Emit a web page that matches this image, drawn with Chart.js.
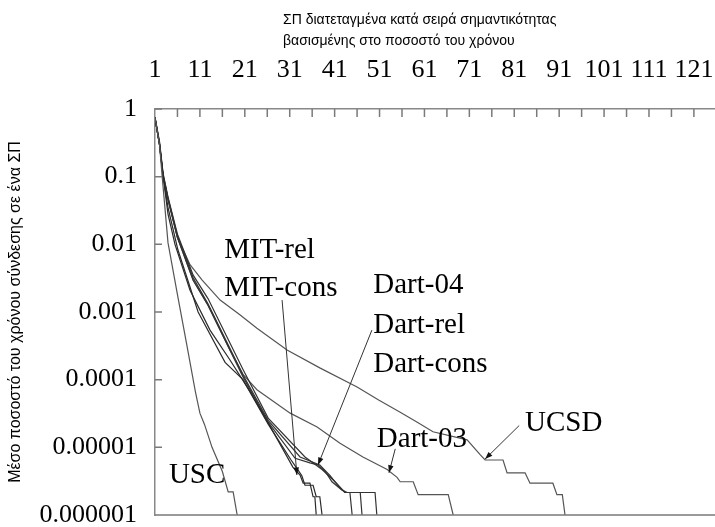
<!DOCTYPE html>
<html lang="el">
<head>
<meta charset="UTF-8">
<title>Μέσο ποσοστό του χρόνου σύνδεσης σε ένα ΣΠ</title>
<script src="https://cdn.jsdelivr.net/npm/chart.js@4.4.0/dist/chart.umd.min.js"></script>
<style>
  html, body { margin: 0; padding: 0; background: #fff; }
  #wrap { width: 715px; height: 527px; }
</style>
</head>
<body>
<div id="wrap"><canvas id="chart" width="715" height="527"></canvas></div>
<script>
// axes
const xTickValues = [1, 11, 21, 31, 41, 51, 61, 71, 81, 91, 101, 111, 121];
const xMarkStep = 5;
const yTickValues = [1, 0.1, 0.01, 0.001, 0.0001, 0.00001, 0.000001];
const yTickLabels = ['1', '0.1', '0.01', '0.001', '0.0001', '0.00001', '0.000001'];

const titleLines = ['ΣΠ διατεταγμένα κατά σειρά σημαντικότητας', 'βασισμένης στο ποσοστό του χρόνου'];
const yTitle = 'Μέσο ποσοστό του χρόνου σύνδεσης σε ένα ΣΠ';

// series (x = rank of AP, y = mean fraction of time)
const uscX = [1, 2, 2.6, 3.9, 6, 8, 10, 11, 12, 13.7, 16, 17.3, 18.4, 19.3];
const uscY = [0.74, 0.3, 0.1, 0.0105, 1.8e-3, 3.5e-4, 6.6e-5, 3.2e-5, 2.2e-5, 1.0e-5, 4.4e-6, 2.2e-6, 2.2e-6, 1e-6];

const mitConsX = [1, 2, 2.8, 3.9, 5.45, 8.8, 13.25, 17.7, 22.2, 26.2, 31.7, 33.3, 34.0, 35.5, 36.2, 36.6, 36.9];
const mitConsY = [0.74, 0.3, 0.102, 0.028, 0.01, 2.1e-3, 5.4e-4, 1.95e-4, 6.6e-5, 2.3e-5, 5.1e-6, 3.9e-6, 2.95e-6, 2.95e-6, 1.86e-6, 1.86e-6, 1e-6];

const mitRelX = [1, 2, 2.8, 3.9, 6.1, 10.6, 16.6, 20.6, 26.2, 31.3, 32.6, 33.7, 34.4, 36.2, 36.9, 37.7, 38.2];
const mitRelY = [0.74, 0.3, 0.102, 0.035, 8.3e-3, 1e-3, 1.8e-4, 1e-4, 2.2e-5, 6.5e-6, 4.9e-6, 3.8e-6, 2.75e-6, 2.75e-6, 1.86e-6, 1.86e-6, 1e-6];

const dartRelX = [1, 2, 2.8, 3.9, 6, 9.5, 12.8, 20.6, 26.2, 32.2, 35.5, 37.3, 38.9, 40.4, 42.6, 43.8, 44.4, 44.9];
const dartRelY = [0.74, 0.3, 0.102, 0.046, 0.0126, 2.95e-3, 1.26e-3, 1.1e-4, 2.35e-5, 6.9e-6, 5.9e-6, 5.5e-6, 4.4e-6, 3.1e-6, 2.35e-6, 2.15e-6, 2.15e-6, 1e-6];

const dartConsX = [1, 2, 2.8, 3.9, 6, 9.5, 12.8, 20.6, 26.2, 33.3, 37.7, 40.0, 42.2, 43.3, 46.7, 47.1];
const dartConsY = [0.74, 0.32, 0.107, 0.048, 0.0132, 3.2e-3, 1.32e-3, 1.17e-4, 2.5e-5, 7.2e-6, 5.5e-6, 3.8e-6, 2.5e-6, 2.15e-6, 2.15e-6, 1e-6];

const dart04X = [1, 2, 2.8, 3.9, 6, 9.5, 12.8, 20.6, 26.2, 34.4, 38.2, 41.1, 43.3, 50.0, 50.4];
const dart04Y = [0.76, 0.33, 0.112, 0.05, 0.0141, 3.5e-3, 1.58e-3, 1.41e-4, 2.7e-5, 7.2e-6, 4.7e-6, 3.1e-6, 2.15e-6, 2.15e-6, 1e-6];

const dart03X = [1, 2, 2.8, 3.9, 6, 9.5, 12.8, 17.7, 20.6, 23.7, 31.1, 37.1, 42.2, 47.3, 52.7, 54.9, 55.6, 58.5, 59.6, 66.3, 67.4];
const dart03Y = [0.74, 0.3, 0.102, 0.046, 0.0126, 2.95e-3, 1.26e-3, 2.75e-4, 1.2e-4, 7.1e-5, 3.2e-5, 2.0e-5, 1.15e-5, 7.2e-6, 4.7e-6, 3.6e-6, 3.1e-6, 3.1e-6, 2.0e-6, 2.0e-6, 1e-6];

const ucsdX = [1, 2, 2.8, 3.9, 6, 8.8, 11.5, 15.5, 19.9, 23.7, 30.4, 37.8, 46.0, 50.8, 55.6, 59.4, 62.9, 70.5, 73.4, 74.5, 78.5, 79.4, 83.4, 84.5, 89.6, 90.5, 91.7, 92.3];
const ucsdY = [0.74, 0.3, 0.102, 0.046, 0.0126, 5.0e-3, 2.95e-3, 1.5e-3, 9.1e-4, 5.75e-4, 2.75e-4, 1.48e-4, 7.8e-5, 5.0e-5, 3.3e-5, 2.35e-5, 1.7e-5, 1.29e-5, 7.8e-6, 6.5e-6, 6.5e-6, 4.2e-6, 4.2e-6, 2.95e-6, 2.95e-6, 2.0e-6, 2.0e-6, 1e-6];

// text labels and arrows, in data units
const notes = [
    { text: 'MIT-rel', x: 16.4, y: 6.3e-3 },
    { text: 'MIT-cons', x: 16.4, y: 1.7e-3 },
    { text: 'Dart-04', x: 49.6, y: 1.9e-3 },
    { text: 'Dart-rel', x: 49.6, y: 4.9e-4 },
    { text: 'Dart-cons', x: 49.6, y: 1.3e-4 },
    { text: 'Dart-03', x: 50.4, y: 1.0e-5 },
    { text: 'UCSD', x: 83.4, y: 1.74e-5 },
    { text: 'USC', x: 4.1, y: 3.0e-6 }
];
const arrows = [
    { x1: 29.3, y1: 1.5e-3, x2: 32.6, y2: 3.9e-6 },
    { x1: 49.3, y1: 5.4e-4, x2: 37.3, y2: 5.5e-6 },
    { x1: 54.5, y1: 9.5e-6, x2: 53.1, y2: 4.2e-6 },
    { x1: 82.1, y1: 2.1e-5, x2: 74.5, y2: 6.7e-6 }
];

const serif = '"Liberation Serif", "Times New Roman", serif';
const sans = '"Liberation Sans", Arial, sans-serif';

function pts(xs, ys) {
    return xs.map((x, i) => ({ x: x, y: ys[i] }));
}

function series(label, xs, ys, color) {
    return {
        label: label,
        data: pts(xs, ys),
        borderColor: color,
        borderWidth: 1.2,
        pointRadius: 0,
        tension: 0,
        fill: false
    };
}

// keep the plot box fixed: no extra room for overflowing tick labels
function noPadding(s) {
    s.paddingLeft = 0;
    s.paddingRight = 0;
    s.paddingTop = 0;
    s.paddingBottom = 0;
}

// inward tick marks, bottom frame line, title, labels and arrows
const decor = {
    id: 'decor',
    afterDraw(chart) {
        const { ctx, chartArea: a, scales: { x, y } } = chart;
        ctx.save();
        ctx.strokeStyle = '#7a7a7a';
        ctx.lineWidth = 1.5;
        ctx.beginPath();
        const last = xTickValues[xTickValues.length - 1];
        for (let v = xTickValues[0] + xMarkStep; v <= last; v += xMarkStep) {
            const px = x.getPixelForValue(v);
            ctx.moveTo(px, a.top);
            ctx.lineTo(px, a.top + 8);
        }
        yTickValues.forEach(v => {
            const py = y.getPixelForValue(v);
            ctx.moveTo(a.left, py);
            ctx.lineTo(a.left + 7, py);
        });
        ctx.moveTo(a.left, a.bottom);
        ctx.lineTo(a.right, a.bottom);
        ctx.stroke();

        // title above the top axis
        ctx.fillStyle = '#000';
        ctx.font = '14px ' + sans;
        ctx.textAlign = 'left';
        ctx.textBaseline = 'middle';
        ctx.fillText(titleLines[0], a.left + 128, 20);
        ctx.fillText(titleLines[1], a.left + 128, 41);

        // series labels
        ctx.font = '29px ' + serif;
        ctx.textBaseline = 'alphabetic';
        notes.forEach(n => {
            ctx.fillText(n.text, x.getPixelForValue(n.x), y.getPixelForValue(n.y));
        });

        // arrows
        ctx.strokeStyle = '#333';
        ctx.fillStyle = '#111';
        ctx.lineWidth = 1;
        arrows.forEach(ar => {
            const x1 = x.getPixelForValue(ar.x1), y1 = y.getPixelForValue(ar.y1);
            const x2 = x.getPixelForValue(ar.x2), y2 = y.getPixelForValue(ar.y2);
            ctx.beginPath();
            ctx.moveTo(x1, y1);
            ctx.lineTo(x2, y2);
            ctx.stroke();
            const ang = Math.atan2(y2 - y1, x2 - x1);
            ctx.beginPath();
            ctx.moveTo(x2, y2);
            ctx.lineTo(x2 - 8 * Math.cos(ang - 0.35), y2 - 8 * Math.sin(ang - 0.35));
            ctx.lineTo(x2 - 8 * Math.cos(ang + 0.35), y2 - 8 * Math.sin(ang + 0.35));
            ctx.closePath();
            ctx.fill();
        });
        ctx.restore();
    }
};

new Chart(document.getElementById('chart'), {
    type: 'line',
    data: {
        datasets: [
            series('USC', uscX, uscY, '#555'),
            series('MIT-cons', mitConsX, mitConsY, '#2a2a2a'),
            series('MIT-rel', mitRelX, mitRelY, '#2a2a2a'),
            series('Dart-rel', dartRelX, dartRelY, '#333'),
            series('Dart-cons', dartConsX, dartConsY, '#333'),
            series('Dart-04', dart04X, dart04Y, '#333'),
            series('Dart-03', dart03X, dart03Y, '#555'),
            series('UCSD', ucsdX, ucsdY, '#555')
        ]
    },
    options: {
        responsive: false,
        animation: false,
        layout: { padding: { left: 0, right: 0, top: 0, bottom: 12 }, autoPadding: false },
        plugins: {
            legend: { display: false },
            tooltip: { enabled: false }
        },
        scales: {
            x: {
                type: 'linear',
                position: 'top',
                min: 1,
                max: 125.7,
                afterBuildTicks: s => { s.ticks = xTickValues.map(v => ({ value: v })); },
                afterFit: s => { s.height = 109; noPadding(s); },
                grid: { display: false, drawTicks: false },
                border: { display: true, color: '#888', width: 1.5 },
                ticks: {
                    autoSkip: false,
                    maxRotation: 0,
                    padding: 23,
                    color: '#000',
                    font: { family: serif, size: 26 },
                    callback: v => String(v)
                }
            },
            y: {
                type: 'logarithmic',
                position: 'left',
                min: 0.000001,
                max: 1,
                afterBuildTicks: s => { s.ticks = yTickValues.map(v => ({ value: v })); },
                afterFit: s => { s.width = 155; noPadding(s); },
                grid: { display: false, drawTicks: false },
                border: { display: true, color: '#888', width: 1.5 },
                ticks: {
                    autoSkip: false,
                    padding: 18,
                    color: '#000',
                    font: { family: serif, size: 26 },
                    callback: (v, i) => yTickLabels[i]
                },
                title: {
                    display: true,
                    text: yTitle,
                    color: '#000',
                    font: { family: sans, size: 16 },
                    padding: { top: 6, bottom: 0 }
                }
            }
        }
    },
    plugins: [decor]
});
</script>
</body>
</html>
